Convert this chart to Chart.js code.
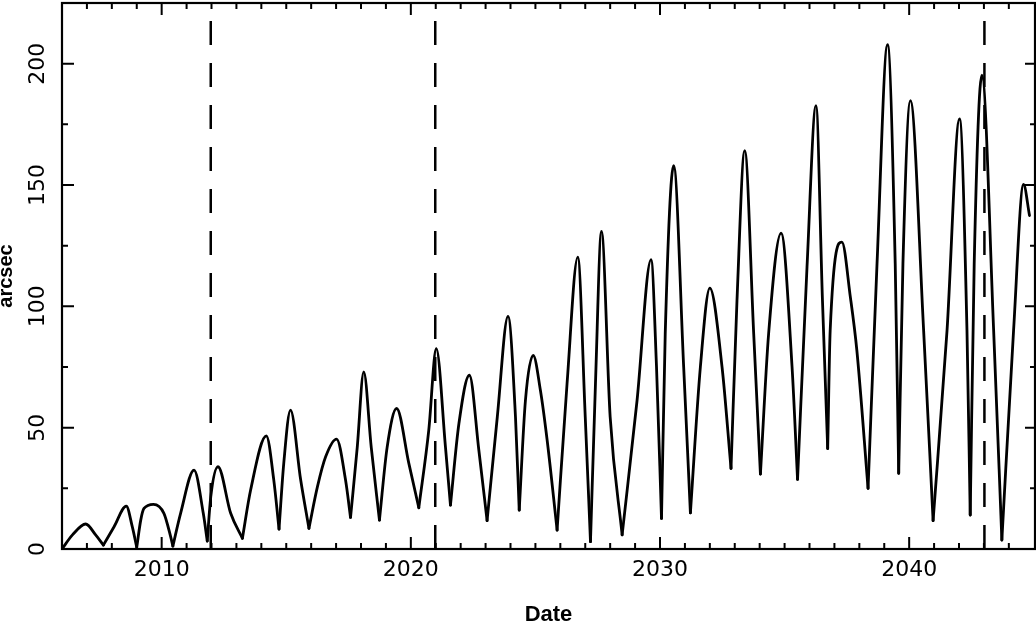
<!DOCTYPE html>
<html>
<head>
<meta charset="utf-8">
<script src="https://cdn.jsdelivr.net/npm/chart.js@4.4.1/dist/chart.umd.min.js"></script>
<style>
  html, body { margin: 0; padding: 0; background: #fff; }
  #chart { display: block; }
</style>
</head>
<body>
<canvas id="chart" width="1036" height="625"></canvas>
<script>
// separation curve, values (date in years, separation in arcsec)
const years = [
  2006.00, 2006.42, 2006.95, 2007.35, 2007.66,
  2008.09, 2008.58, 2008.82, 2009.00,
  2009.16, 2009.29, 2009.67, 2010.09, 2010.36, 2010.45,
  2010.76, 2011.30, 2011.67, 2011.83,
  2011.97, 2012.26, 2012.77, 2013.24,
  2013.57, 2014.20, 2014.50, 2014.71,
  2014.90, 2015.17, 2015.58, 2015.91,
  2016.25, 2016.58, 2017.02, 2017.38, 2017.58,
  2017.85, 2018.11, 2018.41, 2018.74,
  2019.05, 2019.43, 2019.92, 2020.32,
  2020.72, 2021.02, 2021.39, 2021.59,
  2021.93, 2022.35, 2022.73, 2023.06,
  2023.47, 2023.90, 2024.20, 2024.35,
  2024.60, 2024.91, 2025.20, 2025.47, 2025.87,
  2026.27, 2026.70, 2027.00, 2027.21,
  2027.41, 2027.65, 2028.00, 2028.48,
  2029.08, 2029.64, 2029.86, 2030.06,
  2030.21, 2030.55, 2030.95, 2031.22,
  2031.62, 2032.00, 2032.49, 2032.85,
  2033.09, 2033.40, 2033.76, 2034.03,
  2034.36, 2034.86, 2035.30, 2035.52,
  2035.90, 2036.26, 2036.52, 2036.73,
  2036.83, 2037.30, 2037.64, 2037.90, 2038.35,
  2038.71, 2039.13, 2039.44, 2039.58,
  2039.75, 2040.05, 2040.58, 2040.96,
  2041.52, 2042.02, 2042.32, 2042.45,
  2042.61, 2042.92, 2043.39, 2043.72,
  2044.19, 2044.59, 2044.83
];
const arcsec = [
  0.0, 5.8, 10.3, 5.8, 1.6,
  9.2, 17.7, 9.2, 0.7,
  11.9, 16.7, 18.4, 14.7, 5.1, 1.2,
  14.7, 32.5, 14.7, 3.3,
  21.5, 33.9, 14.7, 4.4,
  24.3, 46.6, 28.4, 8.2,
  35.3, 57.2, 28.4, 8.5,
  25.6, 38.0, 45.3, 28.4, 13.0,
  42.0, 73.0, 42.0, 11.9,
  42.0, 57.9, 35.3, 17.0,
  49.0, 82.6, 42.0, 18.1,
  51.7, 71.6, 40.7, 11.7,
  54.4, 95.9, 54.4, 16.0,
  61.3, 79.8, 65.4, 44.9, 7.8,
  68.2, 120.3, 54.4, 3.0,
  68.2, 130.9, 54.4, 5.8,
  61.3, 119.2, 75.0, 12.6,
  88.8, 158.0, 75.0, 14.9,
  75.0, 107.5, 75.0, 33.2,
  102.5, 164.2, 88.8, 30.9,
  88.8, 130.2, 75.0, 28.7,
  116.2, 182.7, 102.5, 41.4,
  90.1, 126.5, 103.8, 81.9, 25.0,
  117.6, 207.8, 117.6, 31.2,
  117.6, 184.8, 90.1, 11.7,
  90.1, 177.2, 90.1, 14.0,
  117.6, 195.3, 90.1, 3.7,
  90.1, 150.2, 137.4
];
const dashedYears = [2011.97, 2020.98, 2043.02];
const xLabelYears = [2010, 2020, 2030, 2040];
const yLabelValues = [0, 50, 100, 150, 200];

const xMin = 2006, xMax = 2045.05;
const yMin = 0, yMax = 225;

// cut the curve at each cusp so every arch gets its own smooth spline
function splitArches() {
    let arches = [];
    let cur = [];
    for (let i = 0; i < years.length; i++) {
        cur.push({ x: years[i], y: arcsec[i] });
        let trough = i > 0 && i < years.length - 1 && arcsec[i] < arcsec[i - 1] && arcsec[i] < arcsec[i + 1];
        if (trough) {
            arches.push(cur);
            cur = [{ x: years[i], y: arcsec[i] }];
        }
    }
    arches.push(cur);
    return arches;
}

const datasets = [];
splitArches().forEach(function (arch) {
    datasets.push({
        data: arch,
        borderColor: '#000',
        borderWidth: 2.8,
        pointRadius: 0,
        fill: false,
        cubicInterpolationMode: 'monotone',
        borderCapStyle: 'round',
        borderJoinStyle: 'round'
    });
});
dashedYears.forEach(function (yr) {
    datasets.push({
        data: [{ x: yr, y: yMin }, { x: yr, y: yMax }],
        borderColor: '#000',
        borderWidth: 2.5,
        borderDash: [24, 18],
        pointRadius: 0,
        fill: false,
        tension: 0
    });
});

// box round the plot with inward ticks on all four sides
const framePlugin = {
    id: 'frame',
    afterDraw(chart) {
        const ctx = chart.ctx;
        const a = chart.chartArea;
        const x = chart.scales.x;
        const y = chart.scales.y;
        ctx.save();
        ctx.strokeStyle = '#000';
        ctx.lineWidth = 2.2;
        ctx.strokeRect(a.left, a.top, a.right - a.left, a.bottom - a.top);
        ctx.lineWidth = 2;
        ctx.beginPath();
        x.ticks.forEach(function (t) {
            if (!Number.isInteger(t.value)) return;
            const px = x.getPixelForValue(t.value);
            const len = t.value % 10 === 0 ? 12 : 6;
            ctx.moveTo(px, a.bottom);
            ctx.lineTo(px, a.bottom - len);
            ctx.moveTo(px, a.top);
            ctx.lineTo(px, a.top + len);
        });
        y.ticks.forEach(function (t) {
            if (t.value % 25 !== 0 || t.value >= yMax) return;
            const py = y.getPixelForValue(t.value);
            const major = t.value % 50 === 0;
            ctx.moveTo(a.left, py);
            ctx.lineTo(a.left + (major ? 12 : 6), py);
            ctx.moveTo(a.right, py);
            ctx.lineTo(a.right - (major ? 10 : 5), py);
        });
        ctx.stroke();
        ctx.restore();
    }
};

const ctx = document.getElementById('chart');
new Chart(ctx, {
    type: 'line',
    data: { datasets: datasets },
    options: {
        responsive: false,
        animation: false,
        devicePixelRatio: 1,
        layout: { padding: { top: 3, right: 1, left: 0, bottom: 0 } },
        plugins: {
            legend: { display: false },
            tooltip: { enabled: false }
        },
        scales: {
            x: {
                type: 'linear',
                min: xMin,
                max: xMax,
                grid: { display: false, drawTicks: false },
                border: { display: false },
                ticks: {
                    stepSize: 1,
                    autoSkip: false,
                    minRotation: 0,
                    maxRotation: 0,
                    padding: 8,
                    color: '#000',
                    font: { family: 'DejaVu Sans', size: 22 },
                    callback: function (v) { return xLabelYears.includes(v) ? String(v) : ''; }
                },
                title: {
                    display: true,
                    text: 'Date',
                    color: '#000',
                    font: { family: 'Liberation Sans', size: 22, weight: 'bold', lineHeight: 1 },
                    padding: { top: 0, bottom: -1 }
                },
                afterFit: function (s) {
                    s.height = 76;
                    s.paddingLeft = 0;
                    s.paddingRight = 0;
                }
            },
            y: {
                type: 'linear',
                min: yMin,
                max: yMax,
                grid: { display: false, drawTicks: false },
                border: { display: false },
                ticks: {
                    stepSize: 25,
                    autoSkip: false,
                    minRotation: 90,
                    maxRotation: 90,
                    crossAlign: 'center',
                    padding: 3,
                    color: '#000',
                    font: { family: 'DejaVu Sans', size: 22 },
                    callback: function (v) { return yLabelValues.includes(v) ? String(v) : ''; }
                },
                title: {
                    display: true,
                    text: 'arcsec',
                    color: '#000',
                    font: { family: 'Liberation Sans', size: 20, weight: 'bold', lineHeight: 1 },
                    padding: { top: -4, bottom: 0 }
                },
                afterFit: function (s) {
                    s.width = 62;
                    s.paddingTop = 0;
                    s.paddingBottom = 0;
                }
            }
        }
    },
    plugins: [framePlugin]
});
</script>
</body>
</html>
